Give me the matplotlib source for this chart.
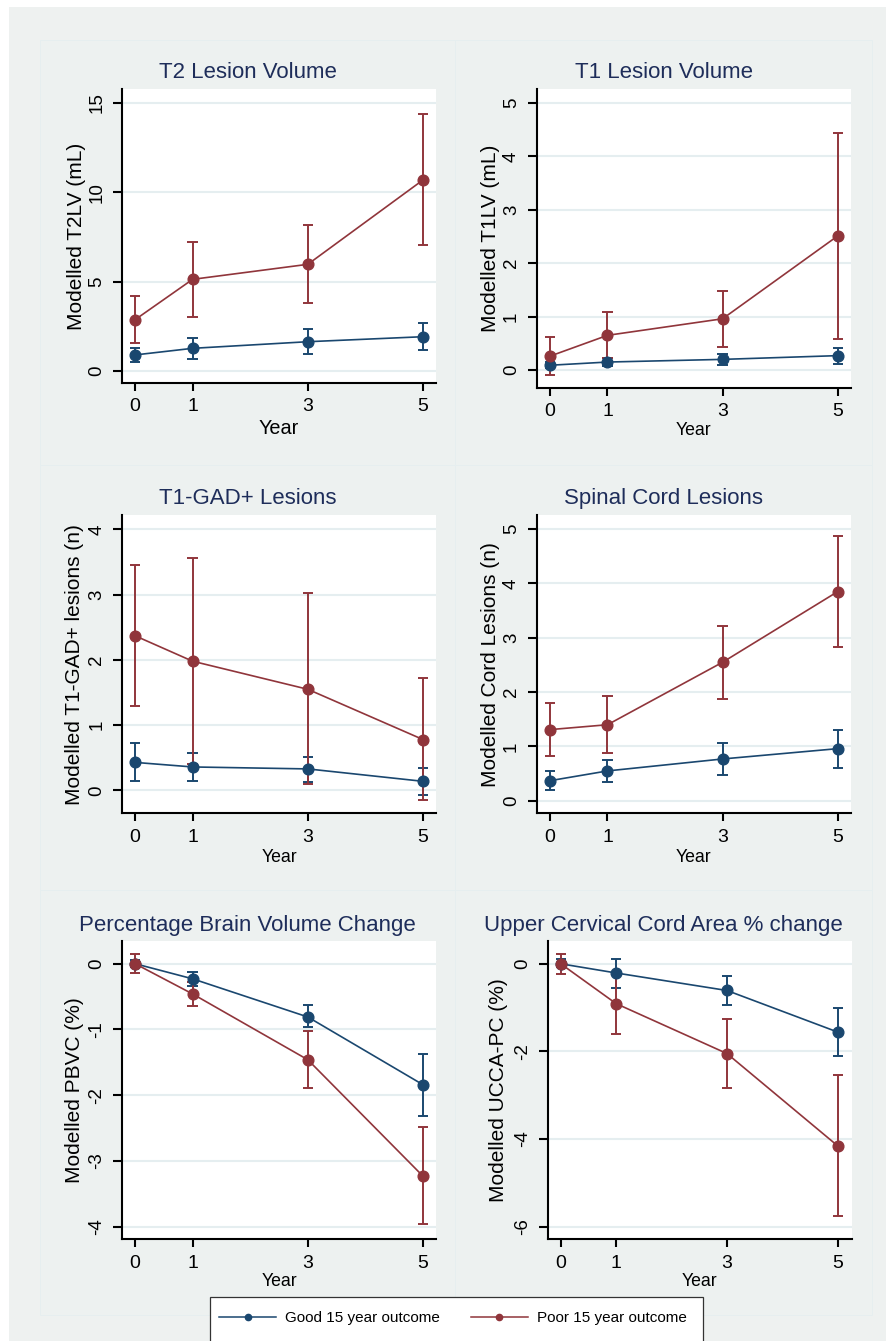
import matplotlib
matplotlib.use("Agg")
import matplotlib.pyplot as plt
from matplotlib.patches import Rectangle
from matplotlib.lines import Line2D

# ---- data ----
years = [0, 1, 3, 5]

t2lv_good = [0.90, 1.27, 1.64, 1.92]
t2lv_good_lo = [0.52, 0.67, 0.93, 1.18]
t2lv_good_hi = [1.30, 1.86, 2.35, 2.67]
t2lv_poor = [2.87, 5.13, 5.97, 10.69]
t2lv_poor_lo = [1.55, 3.04, 3.79, 7.05]
t2lv_poor_hi = [4.21, 7.24, 8.15, 14.36]

t1lv_good = [0.09, 0.15, 0.20, 0.27]
t1lv_good_lo = [0.03, 0.07, 0.10, 0.11]
t1lv_good_hi = [0.16, 0.23, 0.31, 0.42]
t1lv_poor = [0.26, 0.65, 0.96, 2.51]
t1lv_poor_lo = [-0.09, 0.22, 0.44, 0.58]
t1lv_poor_hi = [0.62, 1.08, 1.48, 4.44]

gad_good = [0.43, 0.36, 0.33, 0.14]
gad_good_lo = [0.14, 0.14, 0.13, -0.07]
gad_good_hi = [0.72, 0.58, 0.51, 0.35]
gad_poor = [2.37, 1.98, 1.55, 0.78]
gad_poor_lo = [1.29, 0.40, 0.10, -0.15]
gad_poor_hi = [3.45, 3.56, 3.02, 1.72]

cord_good = [0.37, 0.55, 0.77, 0.96]
cord_good_lo = [0.19, 0.34, 0.47, 0.61]
cord_good_hi = [0.55, 0.75, 1.07, 1.30]
cord_poor = [1.31, 1.40, 2.55, 3.85]
cord_poor_lo = [0.82, 0.88, 1.88, 2.83]
cord_poor_hi = [1.80, 1.92, 3.21, 4.88]

pbvc_good = [0.0, -0.23, -0.81, -1.84]
pbvc_good_lo = [-0.05, -0.34, -0.97, -2.31]
pbvc_good_hi = [0.05, -0.13, -0.63, -1.38]
pbvc_poor = [0.0, -0.46, -1.46, -3.23]
pbvc_poor_lo = [-0.14, -0.64, -1.89, -3.96]
pbvc_poor_hi = [0.15, -0.28, -1.02, -2.49]

ucca_good = [0.0, -0.21, -0.61, -1.56]
ucca_good_lo = [-0.08, -0.55, -0.94, -2.11]
ucca_good_hi = [0.10, 0.11, -0.28, -1.00]
ucca_poor = [0.0, -0.91, -2.05, -4.16]
ucca_poor_lo = [-0.23, -1.60, -2.84, -5.76]
ucca_poor_hi = [0.22, -0.25, -1.25, -2.55]

NAVY = "#1a476f"
MAROON = "#90353b"
W, H = 887, 1341

plt.rcParams["font.family"] = ["Liberation Sans", "DejaVu Sans"]
plt.rcParams["axes.unicode_minus"] = False

fig = plt.figure(figsize=(W / 100, H / 100), dpi=100, facecolor="white")


def px_rect(x0, y0, x1, y1, **kw):
    r = Rectangle((x0 / W, 1 - y1 / H), (x1 - x0) / W, (y1 - y0) / H,
                  transform=fig.transFigure, **kw)
    fig.add_artist(r)
    return r


# graph region backgrounds
px_rect(9, 7, W + 5, H + 5, facecolor="#eef1f0", edgecolor="none", zorder=-20)
col_edges = [40, 455.5, 872]
row_edges = [40, 465, 890, 1315]
for r in range(3):
    for c in range(2):
        px_rect(col_edges[c], row_edges[r], col_edges[c + 1], row_edges[r + 1],
                facecolor="#edf1f0", edgecolor="#e6eeef", lw=0.7, zorder=-15)

panels = [
    dict(title="T2 Lesion Volume", ylabel="Modelled T2LV (mL)",
         good=(t2lv_good, t2lv_good_lo, t2lv_good_hi),
         poor=(t2lv_poor, t2lv_poor_lo, t2lv_poor_hi),
         yticks=[0, 5, 10, 15], ylim=(-0.67, 15.78), xlim=(-0.226, 5.226),
         box=(122, 89, 436, 383), ylab_x=76, xlab_y=428, xlab_size=14.3),
    dict(title="T1 Lesion Volume", ylabel="Modelled T1LV (mL)",
         good=(t1lv_good, t1lv_good_lo, t1lv_good_hi),
         poor=(t1lv_poor, t1lv_poor_lo, t1lv_poor_hi),
         yticks=[0, 1, 2, 3, 4, 5], ylim=(-0.33, 5.26), xlim=(-0.23, 5.226),
         box=(536.7, 89, 850.7, 387.7), ylab_x=490, xlab_y=430, xlab_size=12.7),
    dict(title="T1-GAD+ Lesions", ylabel="Modelled T1-GAD+ lesions (n)",
         good=(gad_good, gad_good_lo, gad_good_hi),
         poor=(gad_poor, gad_poor_lo, gad_poor_hi),
         yticks=[0, 1, 2, 3, 4], ylim=(-0.35, 4.22), xlim=(-0.226, 5.226),
         box=(122, 515, 436, 813.3), ylab_x=75, xlab_y=857, xlab_size=12.7),
    dict(title="Spinal Cord Lesions", ylabel="Modelled Cord Lesions (n)",
         good=(cord_good, cord_good_lo, cord_good_hi),
         poor=(cord_poor, cord_poor_lo, cord_poor_hi),
         yticks=[0, 1, 2, 3, 4, 5], ylim=(-0.23, 5.26), xlim=(-0.23, 5.226),
         box=(536.7, 515, 850.7, 813.3), ylab_x=490, xlab_y=857, xlab_size=12.7),
    dict(title="Percentage Brain Volume Change", ylabel="Modelled PBVC (%)",
         good=(pbvc_good, pbvc_good_lo, pbvc_good_hi),
         poor=(pbvc_poor, pbvc_poor_lo, pbvc_poor_hi),
         yticks=[0, -1, -2, -3, -4], ylim=(-4.19, 0.345), xlim=(-0.226, 5.226),
         box=(122, 941, 436, 1239.3), ylab_x=75, xlab_y=1281, xlab_size=12.7),
    dict(title="Upper Cervical Cord Area % change", ylabel="Modelled UCCA-PC (%)",
         good=(ucca_good, ucca_good_lo, ucca_good_hi),
         poor=(ucca_poor, ucca_poor_lo, ucca_poor_hi),
         yticks=[0, -2, -4, -6], ylim=(-6.29, 0.52), xlim=(-0.235, 5.25),
         box=(547.7, 941, 851.7, 1239.3), ylab_x=498, xlab_y=1281, xlab_size=12.7),
]

title_y = [73, 73, 498, 498, 925, 925]

for i, p in enumerate(panels):
    x0, y0, x1, y1 = p["box"]
    ax = fig.add_axes([x0 / W, 1 - y1 / H, (x1 - x0) / W, (y1 - y0) / H])
    ax.set_facecolor("white")
    for s in ("top", "right"):
        ax.spines[s].set_visible(False)
    for s in ("left", "bottom"):
        ax.spines[s].set_linewidth(1.5)
        ax.spines[s].set_color("black")

    # error bars first, then connected lines (poor on top of good)
    for (m, lo, hi), col in ((p["good"], NAVY), (p["poor"], MAROON)):
        ax.vlines(years, lo, hi, color=col, lw=1.4, zorder=3)
        ax.hlines(lo, [y - 0.09 for y in years], [y + 0.09 for y in years],
                  color=col, lw=1.4, zorder=3)
        ax.hlines(hi, [y - 0.09 for y in years], [y + 0.09 for y in years],
                  color=col, lw=1.4, zorder=3)
    ax.plot(years, p["good"][0], color=NAVY, lw=1.2, marker="o", ms=7.7,
            zorder=4)
    ax.plot(years, p["poor"][0], color=MAROON, lw=1.2, marker="o", ms=7.7,
            zorder=5)

    ax.set_xlim(*p["xlim"])
    ax.set_ylim(*p["ylim"])
    ax.set_xticks(years)
    ax.set_yticks(p["yticks"])
    ax.tick_params(axis="x", length=6, width=1.5, pad=5, labelsize=14)
    ax.tick_params(axis="y", length=6.5, width=1.5, pad=5.5, labelsize=13.5)
    for lab in ax.get_yticklabels():
        lab.set_rotation(90)
        lab.set_va("center")
    ax.yaxis.grid(True, color="#e5eef0", lw=1.5)
    ax.set_axisbelow(True)

    ax.set_ylabel(p["ylabel"], fontsize=15, va="center")
    ax.yaxis.set_label_coords((p["ylab_x"] - x0) / (x1 - x0), 0.5)
    ax.set_xlabel("Year", fontsize=p["xlab_size"], va="center")
    ax.xaxis.set_label_coords(0.5, (y1 - p["xlab_y"]) / (y1 - y0))

    c = col_edges[i % 2]
    cx = (c + col_edges[i % 2 + 1]) / 2
    fig.text(cx / W, 1 - title_y[i] / H, p["title"], fontsize=16,
             color="#1e2d5a", ha="center", va="center")

# legend box
px_rect(210, 1297, 703, H + 10, facecolor="white", edgecolor="#333333",
        lw=0.9, zorder=5)
handles = [
    Line2D([], [], color=NAVY, lw=1.1, marker="o", ms=4.5),
    Line2D([], [], color=MAROON, lw=1.1, marker="o", ms=4.5),
]
fig.legend(handles, ["Good 15 year outcome", "Poor 15 year outcome"],
           loc="center", bbox_to_anchor=(453 / W, 1 - 1318 / H), ncol=2,
           frameon=False, fontsize=11, handlelength=3.73, handletextpad=0.6,
           columnspacing=2.0)

fig.savefig("out.png", dpi=100, facecolor="white")
